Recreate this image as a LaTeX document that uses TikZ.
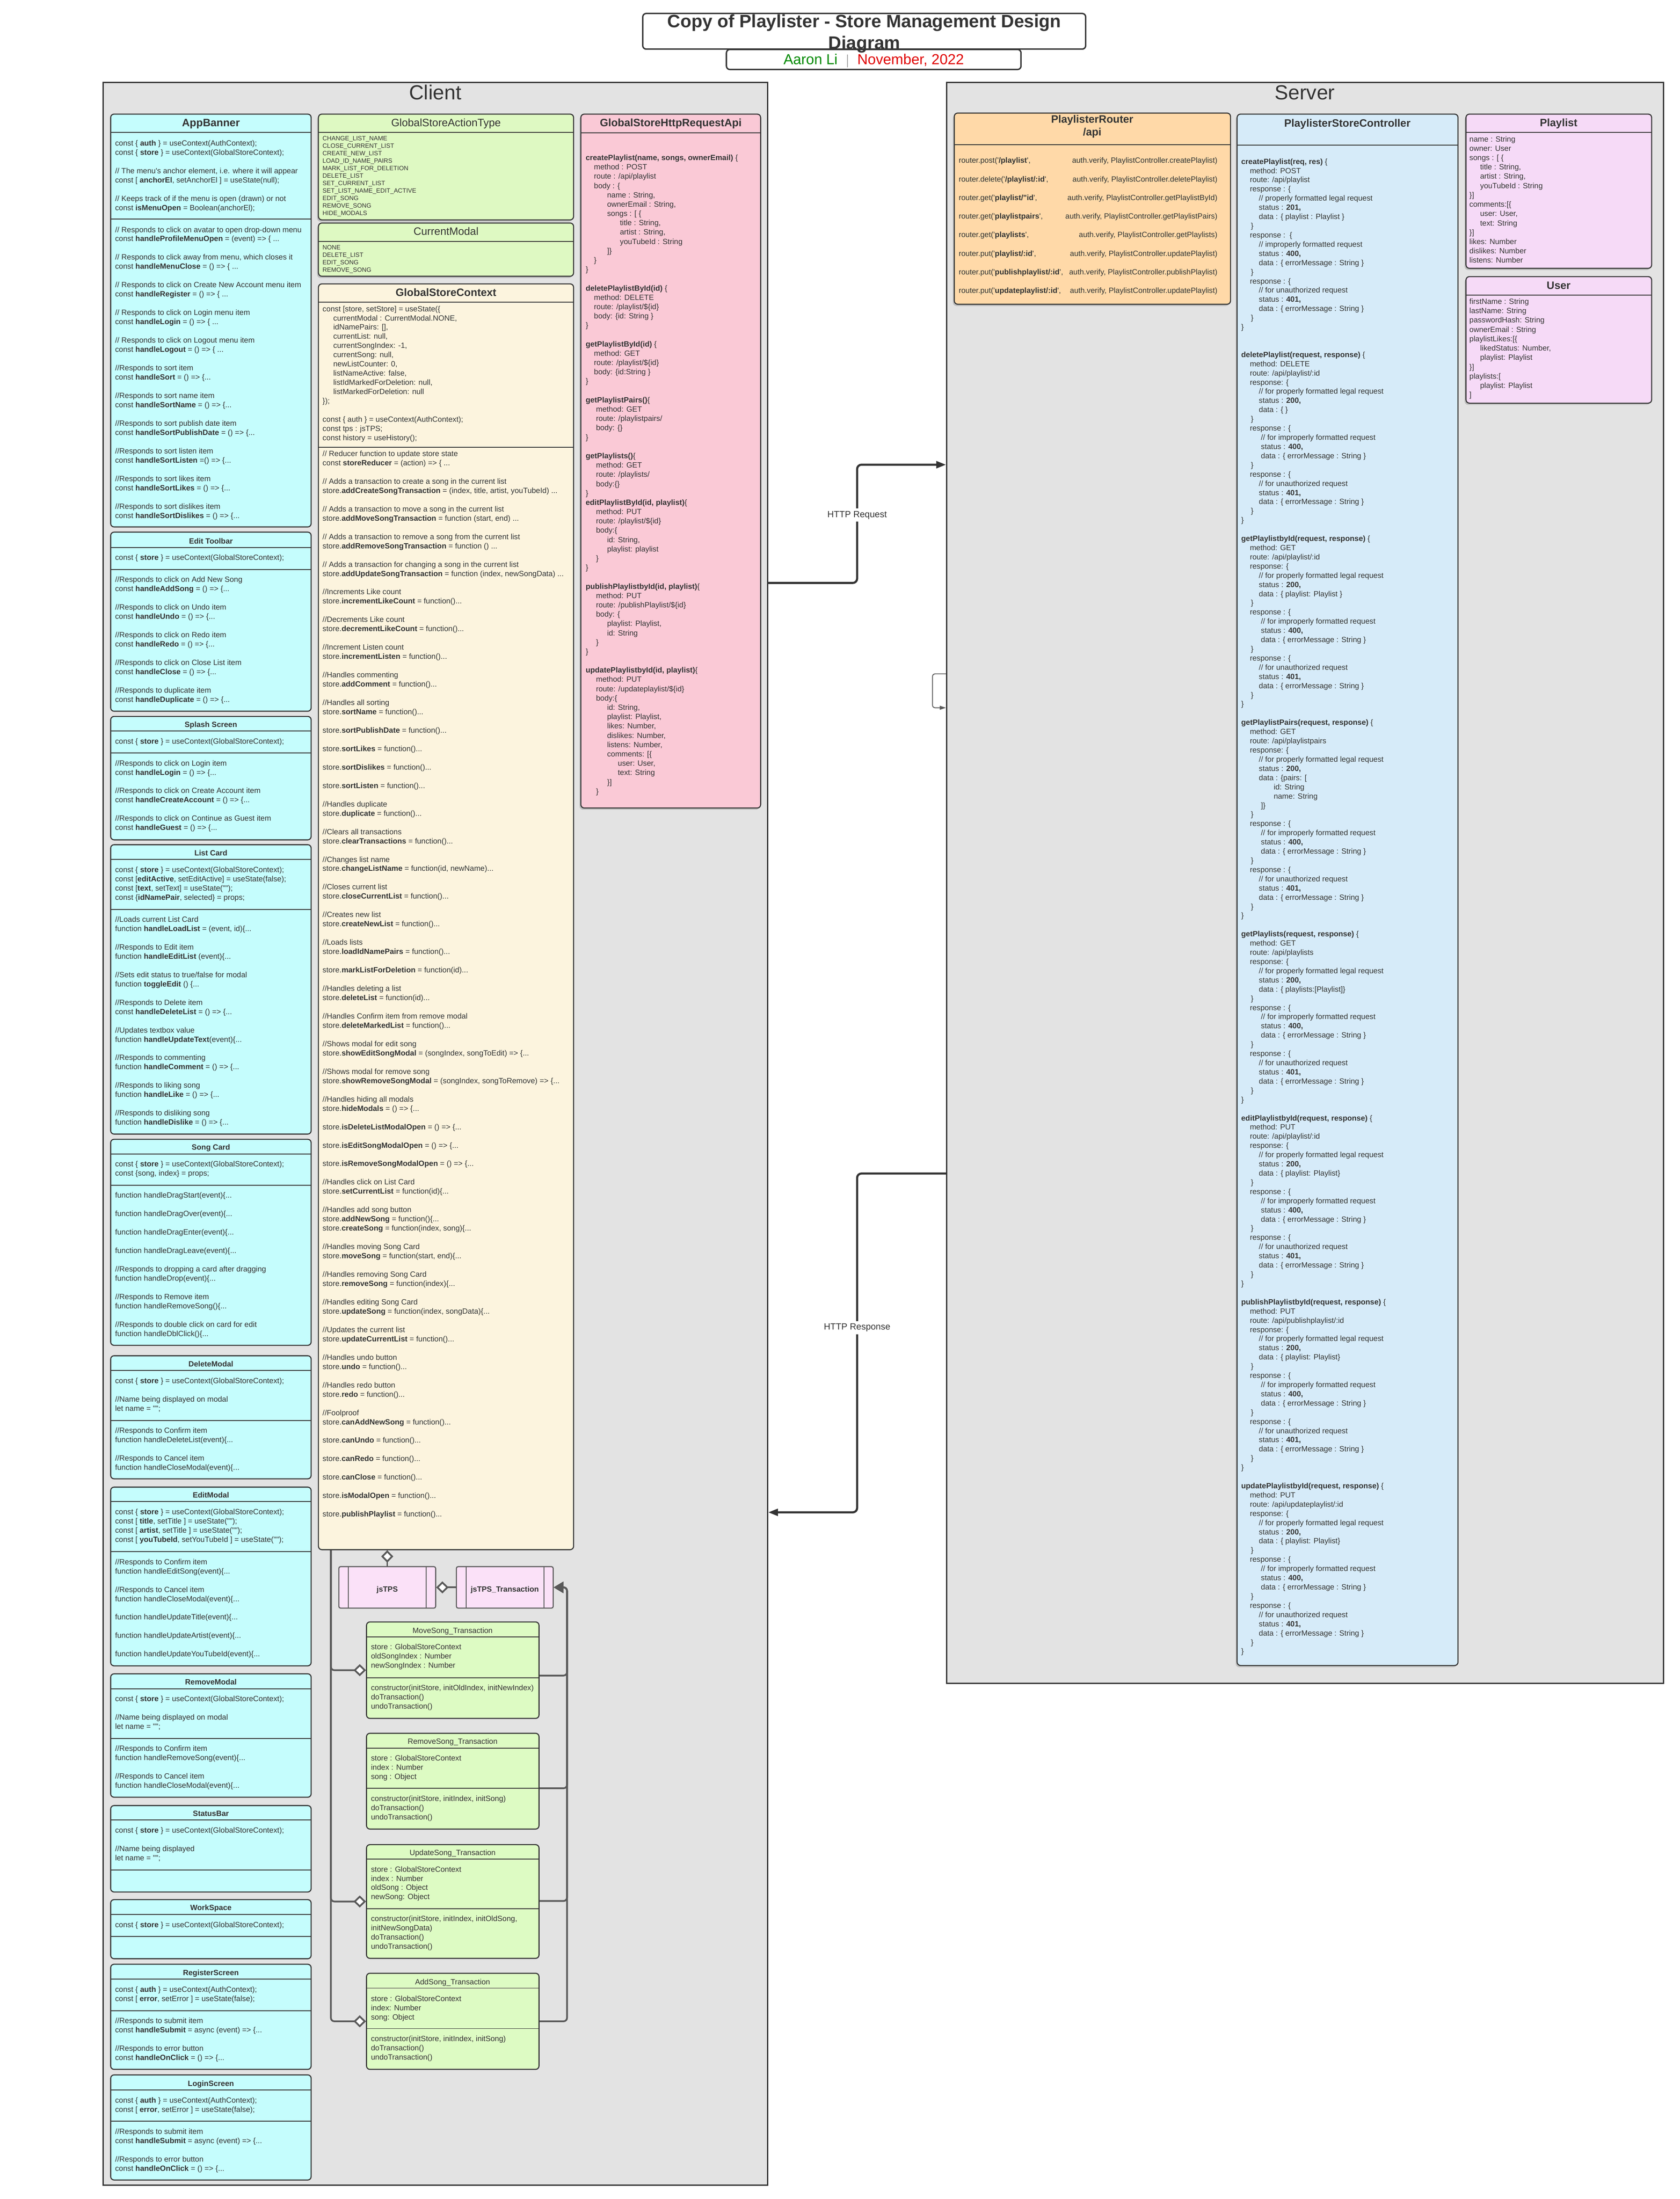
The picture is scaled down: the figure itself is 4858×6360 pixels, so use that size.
\documentclass[tikz,border=0pt]{standalone}
\usepackage{fontspec}
\setmainfont{Liberation Sans}[Ligatures=TeXOff]
\usetikzlibrary{arrows.meta,fit,shadows}

\definecolor{ink}{HTML}{333333}
\definecolor{panelgray}{HTML}{E3E3E3}
\definecolor{compcyan}{HTML}{C5FDFD}
\definecolor{enumgreen}{HTML}{DEF9C2}
\definecolor{storecream}{HTML}{FCF4DE}
\definecolor{apipink}{HTML}{FAC9D6}
\definecolor{routerpeach}{HTML}{FFD9A8}
\definecolor{ctrlblue}{HTML}{D6EBF9}
\definecolor{modelpink}{HTML}{F6DAF7}
\definecolor{tpspink}{HTML}{FBE1F8}
\definecolor{transgreen}{HTML}{DDFBC3}
\definecolor{linkgray}{HTML}{595959}
\definecolor{authorgreen}{HTML}{008A00}
\definecolor{datered}{HTML}{E00000}

\newcommand{\fs}[2]{\fontsize{#1}{#2}\selectfont}
\newcommand{\clines}[1]{\begin{tabular}{@{}l@{}}#1\end{tabular}}
\newcommand{\rlines}[1]{\begin{tabular}{@{}r@{}}#1\end{tabular}}
% indents of the controller, the api box, the store and the models
\newcommand{\CiA}{\hspace*{5pt}}
\newcommand{\CiB}{\hspace*{10.2pt}}
\newcommand{\CiC}{\hspace*{11.4pt}}
\newcommand{\CiE}{\hspace*{18.8pt}}
\newcommand{\CiZ}{\hspace*{5.6pt}}
\newcommand{\AiA}{\hspace*{4.8pt}}
\newcommand{\AiB}{\hspace*{12.4pt}}
\newcommand{\AiC}{\hspace*{19.8pt}}
\newcommand{\AiD}{\hspace*{6pt}}
\newcommand{\AiE}{\hspace*{18.6pt}}
\newcommand{\SiA}{\hspace*{6.2pt}}
\newcommand{\MiA}{\hspace*{6.2pt}}

\newcommand{\CtrlErr}{%
\CiA response : \{\\
\CiC // for improperly formatted request\\
\CiC status : \textbf{400,}\\
\CiC data : \{ errorMessage : String \}\\
\CiZ \}\\
\CiA response : \{\\
\CiB // for unauthorized request\\
\CiB status : \textbf{401,}\\
\CiB data : \{ errorMessage : String \}\\
\CiZ \}\\
\}}

\tikzset{
  panel/.style={draw=ink, line width=0.8pt, fill=panelgray, inner sep=0pt},
  umlbox/.style={draw=ink, line width=0.6pt, rounded corners=2pt, inner sep=0pt},
  shadowed/.style={drop shadow={shadow xshift=-0.8pt, shadow yshift=-1pt, opacity=0.35}},
  divline/.style={draw=ink, line width=0.5pt},
  codebase/.style={anchor=north west, inner sep=0pt, text=ink},
  code/.style={codebase, yshift=2.41pt, font=\fs{4.4}{5.334}},
  ctrlcode/.style={codebase, yshift=2.40pt, font=\fs{4.4}{5.32}},
  apicode/.style={codebase, yshift=2.45pt, font=\fs{4.4}{5.39}},
  modelcode/.style={codebase, yshift=2.46pt, font=\fs{4.4}{5.4}},
  routecode/.style={codebase, yshift=6.21pt, font=\fs{4.4}{10.76}},
  enumcode/.style={codebase, yshift=1.94pt, font=\fs{3.6}{4.32}},
  hdr/.style={anchor=mid, inner sep=0pt, text=ink, font=\fs{4.4}{5.3}\bfseries},
  bighdr/.style={anchor=mid, inner sep=0pt, text=ink, font=\fs{6.2}{7.4}\bfseries},
  enumhdr/.style={anchor=mid, inner sep=0pt, text=ink, font=\fs{6.2}{7.4}},
  transhdr/.style={anchor=mid, inner sep=0pt, text=ink, font=\fs{4.4}{5.3}},
  sidelabel/.style={anchor=mid, inner sep=0pt, text=ink, font=\fs{11.8}{14}},
  httplabel/.style={fill=white, inner sep=1.5pt, text=ink, font=\fs{5.2}{6}},
  aggdiamond/.tip={Diamond[fill=white, length=7.2pt, width=7pt]},
  gentri/.tip={Triangle[length=5.6pt, width=6.4pt]},
  httptri/.tip={Triangle[length=5.6pt, width=4pt]},
  aggr/.style={draw=linkgray, line width=1pt, rounded corners=2pt},
  http/.style={draw=ink, line width=1.2pt, rounded corners=2.5pt, -httptri},
  loopline/.style={draw=linkgray, line width=0.5pt, rounded corners=1.5pt,
    -{Triangle[length=3.6pt, width=2.2pt]}},
}

\begin{document}
\begin{tikzpicture}[x=0.2pt, y=-0.2pt]
\useasboundingbox (0,0) rectangle (4858,6360);

\def\compbox#1#2#3#4#5#6#7{%
  \node[umlbox, fill=compcyan, fit={(320,#2) (900,#6)}] (#1) {};
  \node[hdr] (#1-title) at (610,#3) {#7};
  \draw[divline] (320,#4) -- (900,#4);
  \draw[divline] (320,#5) -- (900,#5);}
\def\transbox#1#2#3#4#5#6#7{%
  \node[umlbox, fill=transgreen, fit={(1060,#2) (1559,#6)}] (#1) {};
  \node[transhdr] (#1-title) at (1309,#3) {#7};
  \draw[divline] (1060,#4) -- (1559,#4);
  \draw[divline] (1060,#5) -- (1559,#5);}

% title
\node[umlbox, draw=ink, line width=0.8pt, fill=white, fit={(1859,39) (3140,142)}] (title) {};
\node[umlbox, draw=ink, line width=0.8pt, fill=white, fit={(2101,143) (2953,201)}] (byline) {};
\node[anchor=mid, inner sep=0pt, font=\fs{8.4}{10}] (byline-text) at (2527,173)
  {\textcolor{authorgreen}{Aaron Li}\hspace{5.5pt}\textcolor{gray!70}{\rule[-1.8pt]{0.4pt}{7.6pt}}\hspace{5.5pt}\textcolor{datered}{November, 2022}};
\node[anchor=north, inner sep=0pt, align=center, text=ink, font=\fs{10.4}{12.4}\bfseries,
  execute at begin node={\rule{0pt}{0.9em}}] (title-text) at (2500,41)
  {Copy of Playlister - Store Management Design\\Diagram};

% panels
\node[panel, fit={(298,239) (2220,6320)}] (client) {};
\node[panel, fit={(2738,239) (4811,4868)}] (server) {};
\node[sidelabel] (client-label) at (1259,275) {Client};
\node[sidelabel] (server-label) at (3774,275) {Server};

% client components
\compbox{appbanner}{330}{352}{383}{634}{1524}{\fs{6.2}{7.4}AppBanner}
\node[code] (appbanner-a) at (332,414) {\clines{const \{ \textbf{auth} \} = useContext(AuthContext);\\
const \{ \textbf{store} \} = useContext(GlobalStoreContext);\\
\\
// The menu's anchor element, i.e. where it will appear\\
const [ \textbf{anchorEl}, setAnchorEl ] = useState(null);\\
\\
// Keeps track of if the menu is open (drawn) or not\\
const \textbf{isMenuOpen} = Boolean(anchorEl);}};
\node[code] (appbanner-b) at (332,664) {\clines{// Responds to click on avatar to open drop-down menu\\
const \textbf{handleProfileMenuOpen} = (event) => \{ ...\\
\\
// Responds to click away from menu, which closes it\\
const \textbf{handleMenuClose} = () => \{ ...\\
\\
// Responds to click on Create New Account menu item\\
const \textbf{handleRegister} = () => \{ ...\\
\\
// Responds to click on Login menu item\\
const \textbf{handleLogin} = () => \{ ...\\
\\
// Responds to click on Logout menu item\\
const \textbf{handleLogout} = () => \{ ...\\
\\
//Responds to sort item\\
const \textbf{handleSort} = () => \{...\\
\\
//Responds to sort name item\\
const \textbf{handleSortName} = () => \{...\\
\\
//Responds to sort publish date item\\
const \textbf{handleSortPublishDate} = () => \{...\\
\\
//Responds to sort listen item\\
const \textbf{handleSortListen} =() => \{...\\
\\
//Responds to sort likes item\\
const \textbf{handleSortLikes} = () => \{...\\
\\
//Responds to sort dislikes item\\
const \textbf{handleSortDislikes} = () => \{...}};

\compbox{edittoolbar}{1539}{1559}{1583}{1647}{2057}{Edit Toolbar}
\node[code] (edittoolbar-a) at (332,1612) {\clines{const \{ \textbf{store} \} = useContext(GlobalStoreContext);}};
\node[code] (edittoolbar-b) at (332,1676) {\clines{//Responds to click on Add New Song\\
const \textbf{handleAddSong} = () => \{...\\
\\
//Responds to click on Undo item\\
const \textbf{handleUndo} = () => \{...\\
\\
//Responds to click on Redo item\\
const \textbf{handleRedo} = () => \{...\\
\\
//Responds to click on Close List item\\
const \textbf{handleClose} = () => \{...\\
\\
//Responds to duplicate item\\
const \textbf{handleDuplicate} = () => \{...}};

\compbox{splash}{2072}{2090}{2114}{2178}{2429}{Splash Screen}
\node[code] (splash-a) at (332,2144) {\clines{const \{ \textbf{store} \} = useContext(GlobalStoreContext);}};
\node[code] (splash-b) at (332,2207) {\clines{//Responds to click on Login item\\
const \textbf{handleLogin} = () => \{...\\
\\
//Responds to click on Create Account item\\
const \textbf{handleCreateAccount} = () => \{...\\
\\
//Responds to click on Continue as Guest item\\
const \textbf{handleGuest} = () => \{...}};

\compbox{listcard}{2443}{2461}{2486}{2630}{3280}{List Card}
\node[code] (listcard-a) at (332,2515) {\clines{const \{ \textbf{store} \} = useContext(GlobalStoreContext);\\
const [\textbf{editActive}, setEditActive] = useState(false);\\
const [\textbf{text}, setText] = useState("");\\
const \{\textbf{idNamePair}, selected\} = props;}};
\node[code] (listcard-b) at (332,2659) {\clines{//Loads current List Card\\
function \textbf{handleLoadList} = (event, id)\{...\\
\\
//Responds to Edit item\\
function \textbf{handleEditList} (event)\{...\\
\\
//Sets edit status to true/false for modal\\
function \textbf{toggleEdit} () \{...\\
\\
//Responds to Delete item\\
const \textbf{handleDeleteList} = () => \{...\\
\\
//Updates textbox value\\
function \textbf{handleUpdateText}(event)\{...\\
\\
//Responds to commenting\\
function \textbf{handleComment} = () => \{...\\
\\
//Responds to liking song\\
function \textbf{handleLike} = () => \{...\\
\\
//Responds to disliking song\\
function \textbf{handleDislike} = () => \{...}};

\compbox{songcard}{3295}{3313}{3338}{3428}{3891}{Song Card}
\node[code] (songcard-a) at (332,3366) {\clines{const \{ \textbf{store} \} = useContext(GlobalStoreContext);\\
const \{song, index\} = props;}};
\node[code] (songcard-b) at (332,3457) {\clines{function handleDragStart(event)\{...\\
\\
function handleDragOver(event)\{...\\
\\
function handleDragEnter(event)\{...\\
\\
function handleDragLeave(event)\{...\\
\\
//Responds to dropping a card after dragging\\
function handleDrop(event)\{...\\
\\
//Responds to Remove item\\
function handleRemoveSong()\{...\\
\\
//Responds to double click on card for edit\\
function handleDblClick()\{...}};

\compbox{deletemodal}{3921}{3939}{3964}{4108}{4277}{DeleteModal}
\node[code] (deletemodal-a) at (332,3993) {\clines{const \{ \textbf{store} \} = useContext(GlobalStoreContext);\\
\\
//Name being displayed on modal\\
let name = "";}};
\node[code] (deletemodal-b) at (332,4137) {\clines{//Responds to Confirm item\\
function handleDeleteList(event)\{...\\
\\
//Responds to Cancel item\\
function handleCloseModal(event)\{...}};

\compbox{editmodal}{4301}{4319}{4343}{4488}{4818}{EditModal}
\node[code] (editmodal-a) at (332,4373) {\clines{const \{ \textbf{store} \} = useContext(GlobalStoreContext);\\
const [ \textbf{title}, setTitle ] = useState("");\\
const [ \textbf{artist}, setTitle ] = useState("");\\
const [ \textbf{youTubeId}, setYouTubeId ] = useState("");}};
\node[code] (editmodal-b) at (332,4517) {\clines{//Responds to Confirm item\\
function handleEditSong(event)\{...\\
\\
//Responds to Cancel item\\
function handleCloseModal(event)\{...\\
\\
function handleUpdateTitle(event)\{...\\
\\
function handleUpdateArtist(event)\{...\\
\\
function handleUpdateYouTubeId(event)\{...}};

\compbox{removemodal}{4841}{4859}{4884}{5028}{5198}{RemoveModal}
\node[code] (removemodal-a) at (332,4913) {\clines{const \{ \textbf{store} \} = useContext(GlobalStoreContext);\\
\\
//Name being displayed on modal\\
let name = "";}};
\node[code] (removemodal-b) at (332,5057) {\clines{//Responds to Confirm item\\
function handleRemoveSong(event)\{...\\
\\
//Responds to Cancel item\\
function handleCloseModal(event)\{...}};

\compbox{statusbar}{5222}{5239}{5264}{5408}{5472}{StatusBar}
\node[code] (statusbar-a) at (332,5294) {\clines{const \{ \textbf{store} \} = useContext(GlobalStoreContext);\\
\\
//Name being displayed\\
let name = "";}};

\compbox{workspace}{5494}{5512}{5537}{5601}{5665}{WorkSpace}
\node[code] (workspace-a) at (332,5567) {\clines{const \{ \textbf{store} \} = useContext(GlobalStoreContext);}};

\compbox{register}{5681}{5700}{5724}{5815}{5985}{RegisterScreen}
\node[code] (register-a) at (332,5754) {\clines{const \{ \textbf{auth} \} = useContext(AuthContext);\\
const [ \textbf{error}, setError ] = useState(false);}};
\node[code] (register-b) at (332,5844) {\clines{//Responds to submit item\\
const \textbf{handleSubmit} = async (event) => \{...\\
\\
//Responds to error button\\
const \textbf{handleOnClick} = () => \{...}};

\compbox{login}{6001}{6020}{6044}{6135}{6305}{LoginScreen}
\node[code] (login-a) at (332,6074) {\clines{const \{ \textbf{auth} \} = useContext(AuthContext);\\
const [ \textbf{error}, setError ] = useState(false);}};
\node[code] (login-b) at (332,6165) {\clines{//Responds to submit item\\
const \textbf{handleSubmit} = async (event) => \{...\\
\\
//Responds to error button\\
const \textbf{handleOnClick} = () => \{...}};

% store enums and context
\node[umlbox, fill=enumgreen, shadowed, fit={(921,330) (1659,636)}] (actiontype) {};
\node[enumhdr] (actiontype-title) at (1290,353) {GlobalStoreActionType};
\draw[divline] (921,383) -- (1659,383);
\node[enumcode] (actiontype-items) at (932,400) {\clines{CHANGE\_LIST\_NAME\\
CLOSE\_CURRENT\_LIST\\
CREATE\_NEW\_LIST\\
LOAD\_ID\_NAME\_PAIRS\\
MARK\_LIST\_FOR\_DELETION\\
DELETE\_LIST\\
SET\_CURRENT\_LIST\\
SET\_LIST\_NAME\_EDIT\_ACTIVE\\
EDIT\_SONG\\
REMOVE\_SONG\\
HIDE\_MODALS}};

\node[umlbox, fill=enumgreen, shadowed, fit={(921,645) (1659,799)}] (curmodal) {};
\node[enumhdr] (curmodal-title) at (1290,667) {CurrentModal};
\draw[divline] (921,698) -- (1659,698);
\node[enumcode] (curmodal-items) at (932,715) {\clines{NONE\\
DELETE\_LIST\\
EDIT\_SONG\\
REMOVE\_SONG}};

\node[umlbox, fill=storecream, fit={(921,821) (1659,4482)}] (storectx) {};
\node[bighdr] (storectx-title) at (1290,843) {GlobalStoreContext};
\draw[divline] (921,874) -- (1659,874);
\draw[divline] (921,1293) -- (1659,1293);
\node[code] (storectx-a) at (932,893) {\clines{const [store, setStore] = useState(\{\\
\SiA currentModal : CurrentModal.NONE,\\
\SiA idNamePairs: [],\\
\SiA currentList: null,\\
\SiA currentSongIndex: -1,\\
\SiA currentSong: null,\\
\SiA newListCounter: 0,\\
\SiA listNameActive: false,\\
\SiA listIdMarkedForDeletion: null,\\
\SiA listMarkedForDeletion: null\\
\});\\
\\
const \{ auth \} = useContext(AuthContext);\\
const tps : jsTPS;\\
const history = useHistory();}};
\node[code] (storectx-b) at (932,1312) {\clines{// Reducer function to update store state\\
const \textbf{storeReducer} = (action) => \{ ...\\
\\
// Adds a transaction to create a song in the current list\\
store.\textbf{addCreateSongTransaction} = (index, title, artist, youTubeId) ...\\
\\
// Adds a transaction to move a song in the current list\\
store.\textbf{addMoveSongTransaction} = function (start, end) ...\\
\\
// Adds a transaction to remove a song from the current list\\
store.\textbf{addRemoveSongTransaction} = function () ...\\
\\
// Adds a transaction for changing a song in the current list\\
store.\textbf{addUpdateSongTransaction} = function (index, newSongData) ...\\
\\
//Increments Like count\\
store.\textbf{incrementLikeCount} = function()...\\
\\
//Decrements Like count\\
store.\textbf{decrementLikeCount} = function()...\\
\\
//Increment Listen count\\
store.\textbf{incrementListen} = function()...\\
\\
//Handles commenting\\
store.\textbf{addComment} = function()...\\
\\
//Handles all sorting\\
store.\textbf{sortName} = function()...\\
\\
store.\textbf{sortPublishDate} = function()...\\
\\
store.\textbf{sortLikes} = function()...\\
\\
store.\textbf{sortDislikes} = function()...\\
\\
store.\textbf{sortListen} = function()...\\
\\
//Handles duplicate\\
store.\textbf{duplicate} = function()...\\
\\
//Clears all transactions\\
store.\textbf{clearTransactions} = function()...\\
\\
//Changes list name\\
store.\textbf{changeListName} = function(id, newName)...\\
\\
//Closes current list\\
store.\textbf{closeCurrentList} = function()...\\
\\
//Creates new list\\
store.\textbf{createNewList} = function()...\\
\\
//Loads lists\\
store.\textbf{loadIdNamePairs} = function()...\\
\\
store.\textbf{markListForDeletion} = function(id)...\\
\\
//Handles deleting a list\\
store.\textbf{deleteList} = function(id)...\\
\\
//Handles Confirm item from remove modal\\
store.\textbf{deleteMarkedList} = function()...\\
\\
//Shows modal for edit song\\
store.\textbf{showEditSongModal} = (songIndex, songToEdit) => \{...\\
\\
//Shows modal for remove song\\
store.\textbf{showRemoveSongModal} = (songIndex, songToRemove) => \{...\\
\\
//Handles hiding all modals\\
store.\textbf{hideModals} = () => \{...\\
\\
store.\textbf{isDeleteListModalOpen} = () => \{...\\
\\
store.\textbf{isEditSongModalOpen} = () => \{...\\
\\
store.\textbf{isRemoveSongModalOpen} = () => \{...\\
\\
//Handles click on List Card\\
store.\textbf{setCurrentList} = function(id)\{...\\
\\
//Handles add song button\\
store.\textbf{addNewSong} = function()\{...\\
store.\textbf{createSong} = function(index, song)\{...\\
\\
//Handles moving Song Card\\
store.\textbf{moveSong} = function(start, end)\{...\\
\\
//Handles removing Song Card\\
store.\textbf{removeSong} = function(index)\{...\\
\\
//Handles editing Song Card\\
store.\textbf{updateSong} = function(index, songData)\{...\\
\\
//Updates the current list\\
store.\textbf{updateCurrentList} = function()...\\
\\
//Handles undo button\\
store.\textbf{undo} = function()...\\
\\
//Handles redo button\\
store.\textbf{redo} = function()...\\
\\
//Foolproof\\
store.\textbf{canAddNewSong} = function()...\\
\\
store.\textbf{canUndo} = function()...\\
\\
store.\textbf{canRedo} = function()...\\
\\
store.\textbf{canClose} = function()...\\
\\
store.\textbf{isModalOpen} = function()...\\
\\
store.\textbf{publishPlaylist} = function()...}};

% http request api
\node[umlbox, fill=apipink, shadowed, fit={(1680,330) (2200,2337)}] (httpapi) {};
\node[bighdr] (httpapi-title) at (1940,353) {GlobalStoreHttpRequestApi};
\draw[divline] (1680,384) -- (2200,384);
\node[apicode] (httpapi-calls) at (1693,456) {\clines{\textbf{createPlaylist(name, songs, ownerEmail)} \{\\
\AiA method : POST\\
\AiA route : /api/playlist\\
\AiA body : \{\\
\AiB name : String,\\
\AiB ownerEmail : String,\\
\AiB songs : [ \{\\
\AiC title : String,\\
\AiC artist : String,\\
\AiC youTubeId : String\\
\AiB ]\}\\
\AiA \}\\
\}\\
\\
\textbf{deletePlaylistById(id)} \{\\
\AiA method: DELETE\\
\AiA route: /playlist/\$\{id\}\\
\AiA body: \{id: String \}\\
\}\\
\\
\textbf{getPlaylistById(id)} \{\\
\AiA method: GET\\
\AiA route: /playlist/\$\{id\}\\
\AiA body: \{id:String \}\\
\}\\
\\
\textbf{getPlaylistPairs()}\{\\
\AiD method: GET\\
\AiD route: /playlistpairs/\\
\AiD body: \{\}\\
\}\\
\\
\textbf{getPlaylists()}\{\\
\AiD method: GET\\
\AiD route: /playlists/\\
\AiD body:\{\}\\
\}\\
\textbf{editPlaylistById(id, playlist)}\{\\
\AiD method: PUT\\
\AiD route: /playlist/\$\{id\}\\
\AiD body:\{\\
\AiB id: String,\\
\AiB playlist: playlist\\
\AiD \}\\
\}\\
\\
\textbf{publishPlaylistbyId(id, playlist)}\{\\
\AiD method: PUT\\
\AiD route: /publishPlaylist/\$\{id\}\\
\AiD body: \{\\
\AiB playlist: Playlist,\\
\AiB id: String\\
\AiD \}\\
\}\\
\\
\textbf{updatePlaylistbyId(id, playlist)}\{\\
\AiD method: PUT\\
\AiD route: /updateplaylist/\$\{id\}\\
\AiD body:\{\\
\AiB id: String,\\
\AiB playlist: Playlist,\\
\AiB likes: Number,\\
\AiB dislikes: Number,\\
\AiB listens: Number,\\
\AiB comments: [\{\\
\AiE user: User,\\
\AiE text: String\\
\AiB \}]\\
\AiD \}}};

% transaction processing
\node[umlbox, fill=tpspink, draw=linkgray, rounded corners=1pt, fit={(980,4531) (1260,4651)}] (jstps) {};
\draw[divline, draw=linkgray] (1008,4531) -- (1008,4651) (1233,4531) -- (1233,4651);
\node[hdr] (jstps-title) at (jstps) {jsTPS};
\node[umlbox, fill=tpspink, draw=linkgray, rounded corners=1pt, fit={(1320,4531) (1600,4651)}] (tpstrans) {};
\draw[divline, draw=linkgray] (1348,4531) -- (1348,4651) (1573,4531) -- (1573,4651);
\node[hdr] (tpstrans-title) at (tpstrans) {jsTPS\_Transaction};

\transbox{movesong}{4691}{4710}{4734}{4852}{4970}{MoveSong\_Transaction}
\node[code] (movesong-attr) at (1072,4763) {\clines{store : GlobalStoreContext\\
oldSongIndex : Number\\
newSongIndex : Number}};
\node[code] (movesong-ops) at (1072,4881) {\clines{constructor(initStore, initOldIndex, initNewIndex)\\
doTransaction()\\
undoTransaction()}};

\transbox{removesong}{5013}{5031}{5056}{5172}{5290}{RemoveSong\_Transaction}
\node[code] (removesong-attr) at (1072,5085) {\clines{store : GlobalStoreContext\\
index : Number\\
song : Object}};
\node[code] (removesong-ops) at (1072,5202) {\clines{constructor(initStore, initIndex, initSong)\\
doTransaction()\\
undoTransaction()}};

\transbox{updatesong}{5335}{5353}{5377}{5520}{5664}{UpdateSong\_Transaction}
\node[code] (updatesong-attr) at (1072,5406) {\clines{store : GlobalStoreContext\\
index : Number\\
oldSong : Object\\
newSong: Object}};
\node[code] (updatesong-ops) at (1072,5549) {\clines{constructor(initStore, initIndex, initOldSong,\\
initNewSongData)\\
doTransaction()\\
undoTransaction()}};

\transbox{addsong}{5707}{5726}{5750}{5867}{5985}{AddSong\_Transaction}
\node[code] (addsong-attr) at (1072,5780) {\clines{store : GlobalStoreContext\\
index: Number\\
song: Object}};
\node[code] (addsong-ops) at (1072,5896) {\clines{constructor(initStore, initIndex, initSong)\\
doTransaction()\\
undoTransaction()}};

\draw[aggr, aggdiamond-] (jstps.north |- storectx.south) -- (jstps.north);
\draw[aggr, aggdiamond-] (jstps.east) -- (tpstrans.west);
\draw[aggr, -aggdiamond] (957,0 |- storectx.south) |- (movesong.west);
\draw[aggr, -aggdiamond] (957,0 |- storectx.south) |- (updatesong.west);
\draw[aggr, -aggdiamond] (957,0 |- storectx.south) |- (addsong.west);
\draw[aggr, -gentri] (movesong.east |- 0,4846) -| (1640,4591) -- (tpstrans.east);
\draw[aggr, -gentri] (removesong.east |- 0,5172) -| (1640,4591) -- (tpstrans.east);
\draw[aggr, -gentri] (updatesong.east |- 0,5498) -| (1640,4591) -- (tpstrans.east);
\draw[aggr, -gentri] (addsong.east) -| (1640,4591) -- (tpstrans.east);

% server
\node[umlbox, fill=routerpeach, shadowed, fit={(2760,327) (3559,880)}] (router) {};
\node[bighdr, anchor=center, align=center] (router-title) at (3159,366) {PlaylisterRouter\\/api};
\draw[divline] (2760,418) -- (3559,418);
\node[routecode] (router-paths) at (2772,464) {\clines{router.post('\textbf{/playlist}',\\
router.delete('\textbf{/playlist/:id}',\\
router.get('\textbf{playlist/"id}',\\
router.get('\textbf{playlistpairs}',\\
router.get('\textbf{playlists}',\\
router.put('\textbf{playlist/:id}',\\
router.put('\textbf{publishplaylist/:id}',\\
router.put('\textbf{updateplaylist/:id}',}};
\node[routecode, anchor=north east] (router-calls) at (3522,464) {\rlines{auth.verify, PlaylistController.createPlaylist)\\
auth.verify, PlaylistController.deletePlaylist)\\
auth.verify, PlaylistController.getPlaylistById)\\
auth.verify, PlaylistController.getPlaylistPairs)\\
auth.verify, PlaylistController.getPlaylists)\\
auth.verify, PlaylistController.updatePlaylist)\\
auth.verify, PlaylistController.publishPlaylist)\\
auth.verify, PlaylistController.updatePlaylist)}};

\node[umlbox, fill=ctrlblue, shadowed, fit={(3578,330) (4217,4817)}] (controller) {};
\node[bighdr] (controller-title) at (3897,354) {PlaylisterStoreController};
\draw[divline] (3578,420) -- (4217,420);
\node[ctrlcode] (controller-calls) at (3589,467) {\clines{\textbf{createPlaylist(req, res)} \{\\
\CiA method: POST\\
\CiA route: /api/playlist\\
\CiA response : \{\\
\CiB // properly formatted legal request\\
\CiB status : \textbf{201,}\\
\CiB data : \{ playlist : Playlist \}\\
\CiZ \}\\
\CiA response :\ \ \{\\
\CiB // improperly formatted request\\
\CiB status : \textbf{400,}\\
\CiB data : \{ errorMessage : String \}\\
\CiZ \}\\
\CiA response : \{\\
\CiB // for unauthorized request\\
\CiB status : \textbf{401,}\\
\CiB data : \{ errorMessage : String \}\\
\CiZ \}\\
\}\\
\\
\\
\textbf{deletePlaylist(request, response)} \{\\
\CiA method: DELETE\\
\CiA route: /api/playlist/:id\\
\CiA response: \{\\
\CiB // for properly formatted legal request\\
\CiB status : \textbf{200,}\\
\CiB data : \{ \}\\
\CiZ \}\\
\CtrlErr\\
\\
\textbf{getPlaylistbyId(request, response)} \{\\
\CiA method: GET\\
\CiA route: /api/playlist/:id\\
\CiA response: \{\\
\CiB // for properly formatted legal request\\
\CiB status : \textbf{200,}\\
\CiB data : \{ playlist: Playlist \}\\
\CiZ \}\\
\CtrlErr\\
\\
\textbf{getPlaylistPairs(request, response)} \{\\
\CiA method: GET\\
\CiA route: /api/playlistpairs\\
\CiA response: \{\\
\CiB // for properly formatted legal request\\
\CiB status : \textbf{200,}\\
\CiB data : \{pairs: [\\
\CiE id: String\\
\CiE name: String\\
\CiC ]\}\\
\CiZ \}\\
\CtrlErr\\
\\
\textbf{getPlaylists(request, response)} \{\\
\CiA method: GET\\
\CiA route: /api/playlists\\
\CiA response: \{\\
\CiB // for properly formatted legal request\\
\CiB status : \textbf{200,}\\
\CiB data : \{ playlists:[Playlist]\}\\
\CiZ \}\\
\CtrlErr\\
\\
\textbf{editPlaylistbyId(request, response)} \{\\
\CiA method: PUT\\
\CiA route: /api/playlist/:id\\
\CiA response: \{\\
\CiB // for properly formatted legal request\\
\CiB status : \textbf{200,}\\
\CiB data : \{ playlist: Playlist\}\\
\CiZ \}\\
\CtrlErr\\
\\
\textbf{publishPlaylistbyId(request, response)} \{\\
\CiA method: PUT\\
\CiA route: /api/publishplaylist/:id\\
\CiA response: \{\\
\CiB // for properly formatted legal request\\
\CiB status : \textbf{200,}\\
\CiB data : \{ playlist: Playlist\}\\
\CiZ \}\\
\CtrlErr\\
\\
\textbf{updatePlaylistbyId(request, response)} \{\\
\CiA method: PUT\\
\CiA route: /api/updateplaylist/:id\\
\CiA response: \{\\
\CiB // for properly formatted legal request\\
\CiB status : \textbf{200,}\\
\CiB data : \{ playlist: Playlist\}\\
\CiZ \}\\
\CtrlErr}};

\node[umlbox, fill=modelpink, shadowed, fit={(4240,330) (4777,776)}] (playlist) {};
\node[bighdr] (playlist-title) at (4508,353) {Playlist};
\draw[divline] (4240,383) -- (4777,383);
\node[modelcode] (playlist-fields) at (4249,402) {\clines{name : String\\
owner: User\\
songs : [ \{\\
\MiA title : String,\\
\MiA artist : String,\\
\MiA youTubeId : String\\
\}]\\
comments:[\{\\
\MiA user: User,\\
\MiA text: String\\
\}]\\
likes: Number\\
dislikes: Number\\
listens: Number}};

\node[umlbox, fill=modelpink, shadowed, fit={(4240,800) (4777,1166)}] (user) {};
\node[bighdr] (user-title) at (4508,823) {User};
\draw[divline] (4240,854) -- (4777,854);
\node[modelcode] (user-fields) at (4249,872) {\clines{firstName : String\\
lastName: String\\
passwordHash: String\\
ownerEmail : String\\
playlistLikes:[\{\\
\MiA likedStatus: Number,\\
\MiA playlist: Playlist\\
\}]\\
playlists:[\\
\MiA playlist: Playlist\\
]}};

% client <-> server
\draw[http] (client.east |- 0,1686) -| (2479,1344) -- (server.west |- 0,1344);
\node[httplabel] (request-label) at (2479,1490) {HTTP Request};
\draw[http] (server.west |- 0,3394) -| (2479,4374) -- (client.east |- 0,4374);
\node[httplabel] (response-label) at (2479,3840) {HTTP Response};
\draw[loopline] (server.west |- 0,1949) -| (2697,2047) -- (server.west |- 0,2047);

\end{tikzpicture}
\end{document}
